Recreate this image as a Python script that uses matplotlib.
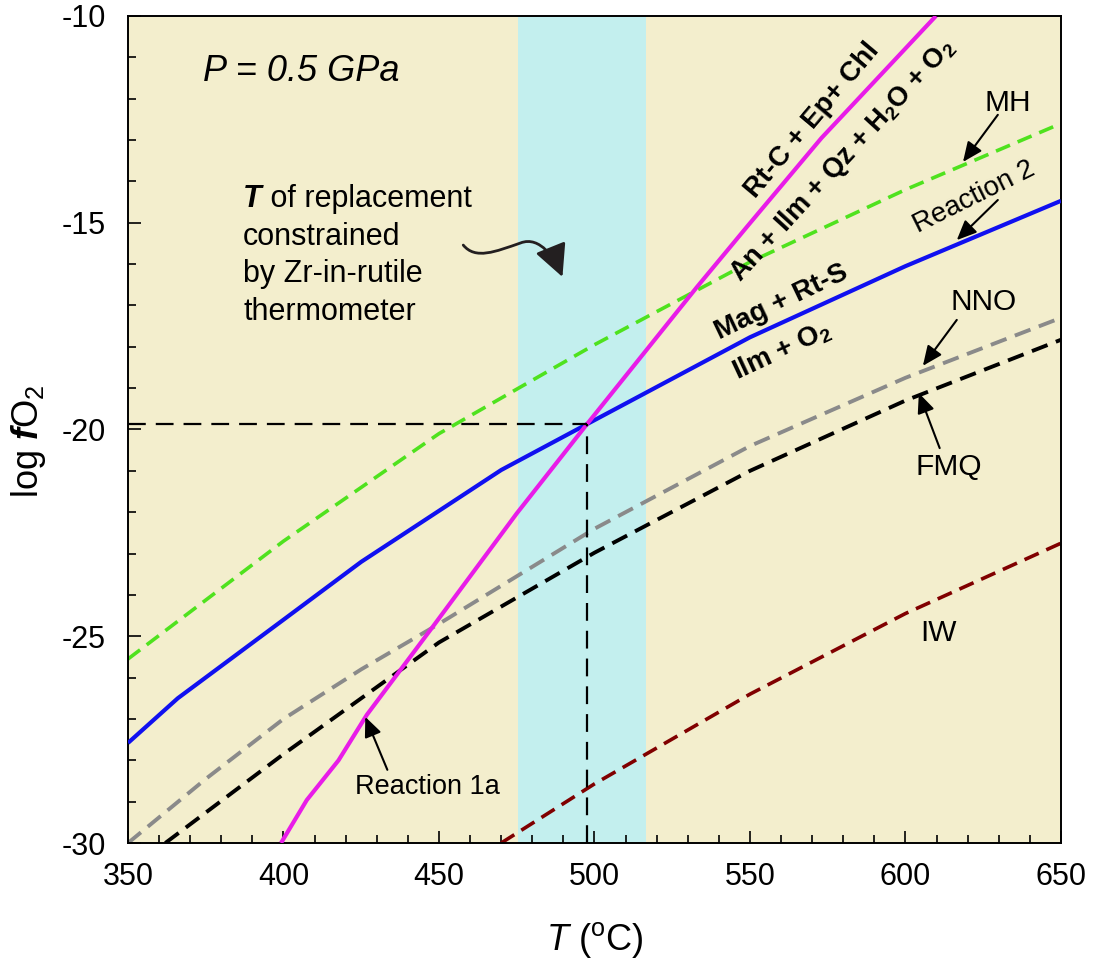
import matplotlib
matplotlib.use("Agg")
import matplotlib.pyplot as plt
from matplotlib.path import Path
from matplotlib.patches import FancyArrowPatch
from matplotlib.ticker import MultipleLocator

plt.rcParams['font.family'] = ['Liberation Sans', 'DejaVu Sans']
plt.rcParams['mathtext.fontset'] = 'custom'
plt.rcParams['mathtext.rm'] = 'Liberation Sans'
plt.rcParams['mathtext.it'] = 'Liberation Sans:italic'
plt.rcParams['mathtext.bf'] = 'Liberation Sans:italic:bold'
plt.rcParams['mathtext.default'] = 'regular'
plt.rcParams['axes.unicode_minus'] = False

# ---------------- data ----------------
T_mh = [350, 400, 450, 500, 550, 600, 650]
mh = [-25.55, -22.7, -20.1, -17.95, -15.95, -14.2, -12.6]

T_r2 = [350, 366, 400, 425, 470, 497.6, 550, 600, 650]
r2 = [-27.58, -26.5, -24.6, -23.2, -20.98, -19.87, -17.77, -16.05, -14.47]

T_r1a = [399.2, 407.5, 417.7, 426.8, 448, 475, 497.6, 533, 549, 573, 609.8]
r1a = [-30, -28.96, -28.0, -26.9, -24.77, -22.03, -19.87, -16.55, -15.1, -12.95, -10]

T_nno = [350, 375, 400, 425, 450, 500, 550, 600, 650]
nno = [-30, -28.45, -27.0, -25.8, -24.7, -22.4, -20.4, -18.75, -17.3]

T_fmq = [362, 400, 450, 500, 550, 600, 650]
fmq = [-30, -27.85, -25.15, -22.98, -21.0, -19.3, -17.83]

T_iw = [470, 500, 550, 600, 650]
iw = [-30, -28.57, -26.4, -24.45, -22.75]

band_T = [475.5, 516.5]          # Zr-in-rutile temperature range
T_repl, fo2_repl = 497.6, -19.87  # intersection of reactions

x_ticks = [350, 400, 450, 500, 550, 600, 650]
y_ticks = [-30, -25, -20, -15, -10]

# curved arrow path (data coords)
arrow_T = [457.8, 461.7, 468.1, 476.2, 482.6, 487.5, 489.7]
arrow_v = [-15.54, -15.90, -15.70, -15.49, -15.30, -15.90, -16.31]

# ---------------- figure ----------------
fig = plt.figure(figsize=(10.94, 9.63), dpi=100)
ax = fig.add_axes([0.117, 0.1246, 0.8528, 0.8588])
ax.set_facecolor('#F3EECD')

ax.axvspan(band_T[0], band_T[1], color='#C3EFEE', lw=0, zorder=0.5)

ax.plot(T_mh, mh, color='#4FE21E', lw=2.6, ls=(0, (4.2, 2.3)), zorder=2)
ax.plot(T_nno, nno, color='#8A8A8A', lw=2.8, ls=(0, (4.3, 2.3)), zorder=2)
ax.plot(T_fmq, fmq, color='black', lw=2.8, ls=(0, (4.3, 2.3)), zorder=2)
ax.plot(T_iw, iw, color='#800000', lw=2.6, ls=(0, (4.3, 2.3)), zorder=2)
ax.plot(T_r2, r2, color='#1010F0', lw=3.0, solid_capstyle='butt', zorder=3)
ax.plot(T_r1a, r1a, color='#E81CE8', lw=3.0, solid_capstyle='butt', zorder=3)

# crosshair
ax.plot([350, T_repl], [fo2_repl, fo2_repl], color='black', lw=1.6,
        ls=(0, (8, 4.5)), zorder=4)
ax.plot([T_repl, T_repl], [-30, fo2_repl], color='black', lw=1.6,
        ls=(0, (8, 4.5)), zorder=4)

ax.set_xlim(350, 650)
ax.set_ylim(-30, -10)
ax.set_xticks(x_ticks)
ax.set_yticks(y_ticks)
ax.xaxis.set_minor_locator(MultipleLocator(10))
ax.yaxis.set_minor_locator(MultipleLocator(1))
ax.tick_params(which='both', direction='in', width=1.2, top=False, right=False)
ax.tick_params(which='major', length=9)
ax.tick_params(which='minor', length=6)
ax.tick_params(axis='x', which='major', labelsize=22, pad=14)
ax.tick_params(axis='y', which='major', labelsize=22, pad=16)
for s in ax.spines.values():
    s.set_linewidth(1.4)

ax.set_xlabel(r'$\mathit{T}$ ($^{o}$C)', fontsize=26, labelpad=20)
ax.set_ylabel(r'log $\mathbf{f}$O$_2$', fontsize=26)
ax.yaxis.set_label_coords(-0.086, 0.486)

# ---------------- texts ----------------
ax.text(374, -11.35, 'P = 0.5 GPa', fontsize=26, style='italic',
        ha='left', va='center')

t1 = ax.text(387, -14.62, 'T', fontsize=22, style='italic', weight='bold',
             ha='left', va='baseline')
ax.annotate(' of replacement', xy=(1, 0), xycoords=t1, fontsize=22,
            ha='left', va='bottom')
for line, yv in zip(['constrained', 'by Zr-in-rutile', 'thermometer'],
                    [-15.54, -16.43, -17.35]):
    ax.text(387, yv, line, fontsize=22, ha='left', va='baseline')

verts = list(zip(arrow_T, arrow_v))
codes = [Path.MOVETO, Path.CURVE4, Path.CURVE4, Path.CURVE4,
         Path.CURVE4, Path.CURVE4, Path.CURVE4]
fa = FancyArrowPatch(path=Path(verts, codes),
                     arrowstyle='-|>,head_length=0.9,head_width=0.45',
                     mutation_scale=22, lw=2.0, color='#231F20', zorder=5)
ax.add_patch(fa)

ax.text(570.2, -12.52, 'Rt-C + Ep+ Chl', fontsize=20, weight='bold',
        rotation=50, rotation_mode='anchor', ha='center', va='center')
ax.text(579.8, -13.48, r'An + Ilm + Qz + H$_2$O + O$_2$', fontsize=19.5,
        weight='bold', rotation=47.5, rotation_mode='anchor',
        ha='center', va='center')
ax.text(560.2, -16.92, 'Mag + Rt-S', fontsize=20, weight='bold',
        rotation=25.5, rotation_mode='anchor', ha='center', va='center')
ax.text(560.2, -18.10, r'Ilm + O$_2$', fontsize=20, weight='bold',
        rotation=25, rotation_mode='anchor', ha='center', va='center')
ax.text(622.0, -14.38, 'Reaction 2', fontsize=20, rotation=26.5,
        rotation_mode='anchor', ha='center', va='center')
ax.text(632.9, -12.10, 'MH', fontsize=21.5, ha='center', va='center')
ax.text(625.2, -16.92, 'NNO', fontsize=21.5, ha='center', va='center')
ax.text(613.9, -20.91, 'FMQ', fontsize=21.5, ha='center', va='center')
ax.text(610.7, -24.92, 'IW', fontsize=21.5, ha='center', va='center')
ax.text(446.2, -28.65, 'Reaction 1a', fontsize=19.5, ha='center', va='center')

arrow_kw = dict(arrowstyle='-|>,head_length=0.8,head_width=0.35',
                mutation_scale=15, lw=1.5, color='black',
                shrinkA=0, shrinkB=0)
pointers = [((629.7, -12.39), (618.5, -13.53)),
            ((629.7, -14.45), (616.5, -15.42)),
            ((616.5, -17.35), (605.6, -18.46)),
            ((611.0, -20.45), (604.3, -19.12)),
            ((433.4, -28.23), (426.3, -26.95))]
for tail, tip in pointers:
    ax.annotate('', xy=tip, xytext=tail, arrowprops=arrow_kw, zorder=6)

fig.savefig('out.png', dpi=100, facecolor='white')
